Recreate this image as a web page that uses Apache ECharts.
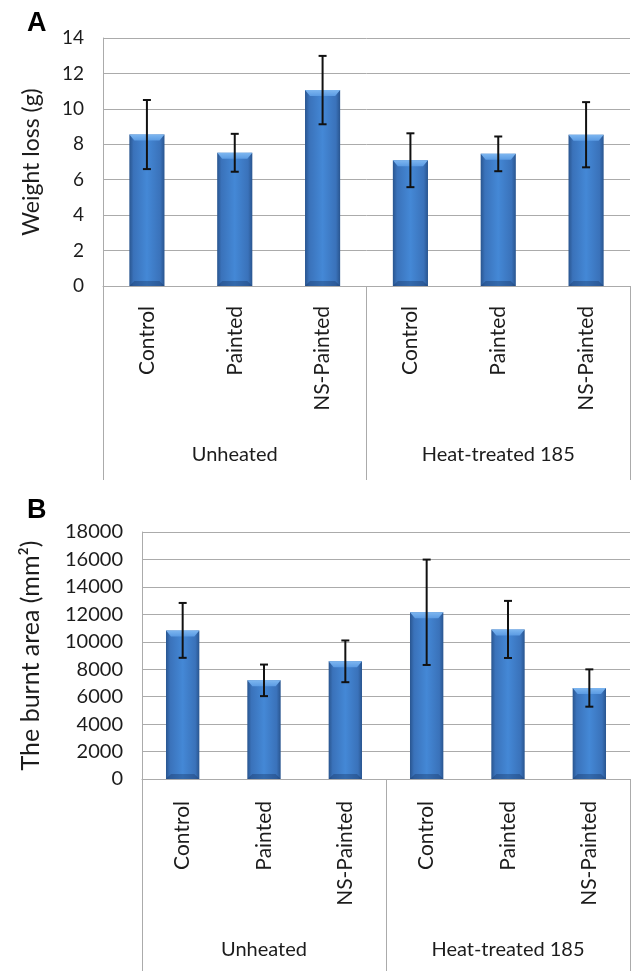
<!DOCTYPE html>
<html>
<head>
<meta charset="utf-8">
<script src="https://cdn.jsdelivr.net/npm/echarts@6/dist/echarts.min.js"></script>
<style>
html,body{margin:0;padding:0;background:#fff;}
#chart{width:633px;height:971px;}
</style>
</head>
<body>
<div id="chart"></div>
<script>
const categories = ['Control', 'Painted', 'NS-Painted', 'Control', 'Painted', 'NS-Painted'];
const groups = ['Unheated', 'Heat-treated 185'];
const weightLoss = [8.55, 7.52, 11.06, 7.10, 7.46, 8.54];
const weightLossErr = [1.95, 1.07, 1.93, 1.52, 0.98, 1.84];
const burntArea = [10830, 7190, 8575, 12150, 10900, 6630];
const burntAreaErr = [2000, 1150, 1520, 3840, 2080, 1360];
const weightTicks = { min: 0, max: 14, interval: 2 };
const areaTicks = { min: 0, max: 18000, interval: 2000 };

const FONT = 'Lato';
const TEXT = '#1c1c1c';
const GRIDC = '#ababab';

const barGrad = {
  type: 'linear', x: 0, y: 0, x2: 1, y2: 0,
  colorStops: [
    { offset: 0, color: '#29558f' },
    { offset: 0.12, color: '#3a72ba' },
    { offset: 0.5, color: '#4488d6' },
    { offset: 0.88, color: '#3a72ba' },
    { offset: 1, color: '#29558f' }
  ]
};

function errData(vals, errs) {
  return vals.map((v, i) => [i, v - errs[i], v + errs[i]]);
}
function bevelData(vals) {
  return vals.map((v, i) => [i, v]);
}

function errRender(params, api) {
  const x = api.value(0);
  const lo = api.coord([x, api.value(1)]);
  const hi = api.coord([x, api.value(2)]);
  const hw = 4;
  const style = { stroke: '#111', lineWidth: 2, fill: null };
  return {
    type: 'group',
    children: [
      { type: 'line', shape: { x1: lo[0], y1: lo[1], x2: hi[0], y2: hi[1] }, style },
      { type: 'line', shape: { x1: hi[0] - hw, y1: hi[1], x2: hi[0] + hw, y2: hi[1] }, style },
      { type: 'line', shape: { x1: lo[0] - hw, y1: lo[1], x2: lo[0] + hw, y2: lo[1] }, style }
    ]
  };
}
function bevelRender(frac) {
  return function (params, api) {
    const top = api.coord([api.value(0), api.value(1)]);
    const base = api.coord([api.value(0), 0]);
    const w = api.size([1, 0])[0] * frac;
    const l = top[0] - w / 2, r = top[0] + w / 2, d = 5;
    return {
      type: 'group',
      children: [
        { type: 'polygon', shape: { points: [[l, top[1]], [r, top[1]], [r - d, top[1] + d + 1], [l + d, top[1] + d + 1]] },
          style: { fill: { type: 'linear', x: 0, y: 0, x2: 0, y2: 1, colorStops: [{ offset: 0, color: '#7db6f0' }, { offset: 1, color: '#5b9be3' }] } } },
        { type: 'polygon', shape: { points: [[l, base[1]], [r, base[1]], [r - d, base[1] - d], [l + d, base[1] - d]] },
          style: { fill: 'rgba(20,50,95,0.35)' } }
      ]
    };
  };
}

function catAxis(gi, margin) {
  return {
    type: 'category', gridIndex: gi, position: 'bottom', data: categories,
    boundaryGap: true,
    axisLine: { show: true, lineStyle: { color: GRIDC, width: 1 } },
    axisTick: { show: false },
    axisLabel: { rotate: 90, interval: 0, margin: margin, fontFamily: FONT, fontSize: 21, color: TEXT }
  };
}
function groupAxis(gi, margin, len) {
  return {
    type: 'category', gridIndex: gi, position: 'bottom', data: groups,
    boundaryGap: true,
    axisLine: { show: false },
    axisTick: { show: true, interval: 0, length: len, lineStyle: { color: GRIDC, width: 1 } },
    axisLabel: { interval: 0, margin: margin, fontFamily: FONT, fontSize: 20, color: TEXT },
    splitLine: { show: false }
  };
}
function valAxis(gi, ticks, name, nameGap, nameSize, labelSize) {
  return {
    type: 'value', gridIndex: gi, min: ticks.min, max: ticks.max, interval: ticks.interval,
    name: name, nameLocation: 'middle', nameGap: nameGap,
    nameTextStyle: { fontFamily: FONT, fontSize: nameSize, color: TEXT },
    axisLine: { show: true, lineStyle: { color: GRIDC, width: 1 } },
    axisTick: { show: false },
    axisLabel: { margin: 19, fontFamily: FONT, fontSize: labelSize, color: TEXT, formatter: (v) => String(v) },
    splitLine: { show: true, lineStyle: { color: GRIDC, width: 1 } }
  };
}

const chart = echarts.init(document.getElementById('chart'), null, { renderer: 'canvas' });
chart.setOption({
  animation: false,
  backgroundColor: '#fff',
  graphic: [
    { type: 'text', left: 27, top: 10, style: { text: 'A', font: 'bold 27px "Liberation Sans"', fill: '#000' } },
    { type: 'text', left: 27, top: 497, style: { text: 'B', font: 'bold 27px "Liberation Sans"', fill: '#000' } }
  ],
  grid: [
    { left: 103, top: 38, right: 3, height: 248 },
    { left: 142, top: 532, right: 3, height: 247 }
  ],
  xAxis: [catAxis(0, 20), groupAxis(0, 159, 194), catAxis(1, 22), groupAxis(1, 161, 192)],
  yAxis: [
    valAxis(0, weightTicks, 'Weight loss (g)', 60, 23, 19),
    valAxis(1, areaTicks, 'The burnt area (mm\u00B2)', 99, 25, 20)
  ],
  series: [
    { type: 'bar', xAxisIndex: 0, yAxisIndex: 0, data: weightLoss, barWidth: '40%', itemStyle: { color: barGrad } },
    { type: 'custom', xAxisIndex: 0, yAxisIndex: 0, data: bevelData(weightLoss), renderItem: bevelRender(0.40), z: 4, silent: true },
    { type: 'custom', xAxisIndex: 0, yAxisIndex: 0, data: errData(weightLoss, weightLossErr), renderItem: errRender, z: 5 },
    { type: 'bar', xAxisIndex: 2, yAxisIndex: 1, data: burntArea, barWidth: '41%', itemStyle: { color: barGrad } },
    { type: 'custom', xAxisIndex: 2, yAxisIndex: 1, data: bevelData(burntArea), renderItem: bevelRender(0.41), z: 4, silent: true },
    { type: 'custom', xAxisIndex: 2, yAxisIndex: 1, data: errData(burntArea, burntAreaErr), renderItem: errRender, z: 5 }
  ]
});
</script>
</body>
</html>
